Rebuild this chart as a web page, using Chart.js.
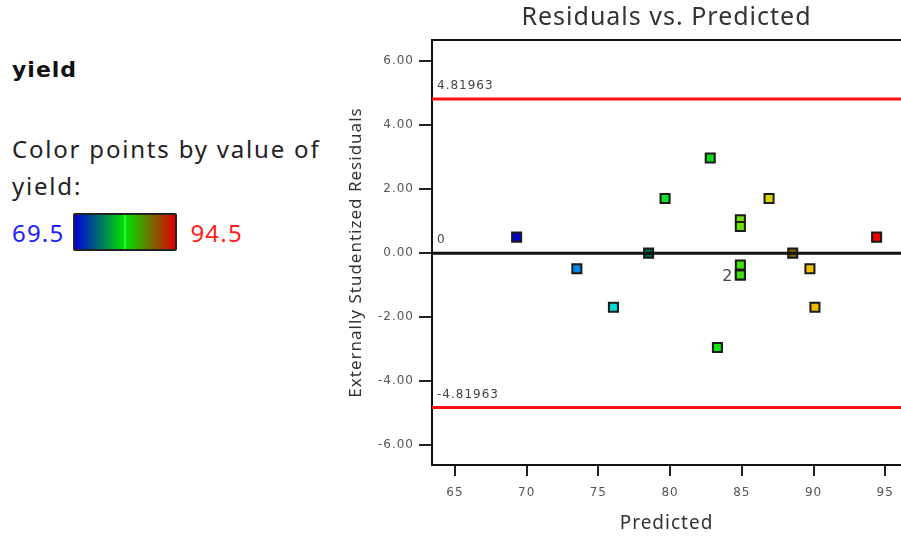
<!DOCTYPE html>
<html>
<head>
<meta charset="utf-8">
<script src="https://cdn.jsdelivr.net/npm/chart.js@4.4.0/dist/chart.umd.min.js"></script>
<style>
  body { margin: 0; background: #fff; width: 901px; height: 537px; overflow: hidden; position: relative; font-family: "Noto Sans", sans-serif; }
  .txt { position: absolute; left: 12px; white-space: nowrap; }
  #factorName { top: 57px; font-family: "DejaVu Sans", sans-serif; font-size: 22px; line-height: 26px; letter-spacing: 1px; font-weight: bold; color: #111; }
  #colorNote { top: 130px; font-size: 24px; line-height: 37px; letter-spacing: 1.8px; color: #222; }
  #scaleRow { top: 213px; height: 38px; display: flex; align-items: center; font-size: 24px; letter-spacing: 1.2px; }
  #lowVal { color: #2222ff; }
  #highVal { color: #ff2222; }
  #bar { width: 100px; height: 34px; margin: 0 13px 0 9px; border: 2px solid #222; border-radius: 2px;
         background: linear-gradient(to right, #0000d8 0%, #00e000 49%, #60ff60 50%, #00e000 51%, #e00000 100%); }
  #wrap { position: absolute; left: 340px; top: 0; }
</style>
</head>
<body>
<div class="txt" id="factorName">yield</div>
<div class="txt" id="colorNote">Color points by value of<br>yield:</div>
<div class="txt" id="scaleRow"><span id="lowVal"></span><div id="bar"></div><span id="highVal"></span></div>
<div id="wrap"><canvas id="chart" width="561" height="537"></canvas></div>
<script>
// run data
const predicted = [69.3, 73.5, 76.05, 78.5, 79.65, 82.8, 83.3, 84.9, 84.9, 84.9, 84.9, 84.9, 86.9, 88.55, 89.75, 90.1, 94.4];
const residuals = [0.5, -0.49, -1.69, 0.0, 1.71, 2.97, -2.95, 1.04, 0.83, -0.37, -0.68, -0.68, 1.71, 0.0, -0.49, -1.69, 0.5];
const pointColors = ['#0000cc', '#0088e8', '#00d8d8', '#00604a', '#10e030', '#10d818', '#10e010', '#70e000', '#70e000',
                     '#40e010', '#40e010', '#40e010', '#d8d800', '#806000', '#f0c000', '#f0b800', '#ee0000'];
const yieldLow = 69.5;
const yieldHigh = 94.5;
const limitHigh = 4.81963;
const limitLow = -4.81963;
const xTicks = [65, 70, 75, 80, 85, 90, 95];
const yTicks = [-6, -4, -2, 0, 2, 4, 6];

const xMin = 63.4, xMax = 96.1;
const yMin = -6.62, yMax = 6.66;

document.getElementById('lowVal').textContent = yieldLow;
document.getElementById('highVal').textContent = yieldHigh;

const points = predicted.map((p, i) => ({ x: p, y: residuals[i] }));

function hLine(y) {
    return [{ x: xMin, y: y }, { x: xMax, y: y }];
}

const tickFont = { family: 'DejaVu Sans', size: 12 };
const tickColor = '#555';

// all canvas text is drawn a little spaced out
const spacing = {
    id: 'spacing',
    beforeDraw(chart) { chart.ctx.letterSpacing = '1px'; },
    afterDraw(chart) { chart.ctx.letterSpacing = '0px'; }
};

// labels on the reference lines, count of overlapping runs, top frame edge
const annotations = {
    id: 'annotations',
    afterDatasetsDraw(chart) {
        const { ctx, chartArea, scales } = chart;
        const x = scales.x, y = scales.y;
        ctx.save();
        ctx.strokeStyle = '#111';
        ctx.lineWidth = 2;
        ctx.beginPath();
        ctx.moveTo(chartArea.left, chartArea.top);
        ctx.lineTo(chartArea.right, chartArea.top);
        ctx.stroke();

        ctx.fillStyle = '#444';
        ctx.font = '12px "DejaVu Sans"';
        ctx.textAlign = 'left';
        ctx.textBaseline = 'bottom';
        const lx = chartArea.left + 5;
        ctx.fillText(String(limitHigh), lx, y.getPixelForValue(limitHigh) - 7);
        ctx.fillText('0', lx, y.getPixelForValue(0) - 7);
        ctx.fillText(String(limitLow), lx, y.getPixelForValue(limitLow) - 7);

        ctx.font = '16px "DejaVu Sans"';
        ctx.textAlign = 'right';
        ctx.textBaseline = 'middle';
        ctx.fillText('2', x.getPixelForValue(84.9) - 7, y.getPixelForValue(-0.68) + 2);
        ctx.restore();
    }
};

new Chart(document.getElementById('chart'), {
    type: 'scatter',
    data: {
        datasets: [
            {
                type: 'line',
                data: hLine(0),
                borderColor: '#111',
                borderWidth: 3,
                pointRadius: 0,
                order: 0
            },
            {
                type: 'line',
                data: hLine(limitHigh),
                borderColor: '#ff1010',
                borderWidth: 3,
                pointRadius: 0,
                order: 2
            },
            {
                type: 'line',
                data: hLine(limitLow),
                borderColor: '#ff1010',
                borderWidth: 3,
                pointRadius: 0,
                order: 2
            },
            {
                data: points,
                pointStyle: 'rect',
                pointRadius: 6.4,
                pointBackgroundColor: pointColors,
                pointBorderColor: '#1a1a1a',
                pointBorderWidth: 2,
                order: 1
            }
        ]
    },
    options: {
        responsive: false,
        devicePixelRatio: 1,
        animation: false,
        layout: { padding: 0, autoPadding: false },
        scales: {
            x: {
                type: 'linear',
                min: xMin,
                max: xMax,
                afterFit: s => { s.height = 72; s.paddingLeft = 0; s.paddingRight = 0; },
                afterBuildTicks: s => { s.ticks = xTicks.map(v => ({ value: v })); },
                ticks: { font: tickFont, color: tickColor, padding: 10 },
                grid: { drawOnChartArea: false, color: '#222', lineWidth: 2, tickLength: 11 },
                border: { color: '#111', width: 2 },
                title: {
                    display: true,
                    text: 'Predicted',
                    font: { family: 'Noto Sans', size: 19 },
                    color: '#333',
                    padding: { top: 0, bottom: 2 }
                }
            },
            y: {
                type: 'linear',
                min: yMin,
                max: yMax,
                afterFit: s => { s.width = 92; s.paddingTop = 0; s.paddingBottom = 0; },
                afterBuildTicks: s => { s.ticks = yTicks.map(v => ({ value: v })); },
                ticks: { font: tickFont, color: tickColor, padding: 5, callback: v => v.toFixed(2) },
                grid: { drawOnChartArea: false, color: '#222', lineWidth: 2, tickLength: 13 },
                border: { color: '#111', width: 2 },
                title: {
                    display: true,
                    text: 'Externally Studentized Residuals',
                    font: { family: 'Noto Sans', size: 17 },
                    color: '#333',
                    padding: { top: 6, bottom: 0 }
                }
            }
        },
        plugins: {
            legend: { display: false },
            tooltip: { enabled: false },
            title: {
                display: true,
                text: 'Residuals vs. Predicted',
                fullSize: false,
                font: { family: 'Noto Sans', size: 25, weight: 'normal' },
                color: '#333',
                padding: { top: 3, bottom: 7 }
            }
        }
    },
    plugins: [spacing, annotations]
});
</script>
</body>
</html>
